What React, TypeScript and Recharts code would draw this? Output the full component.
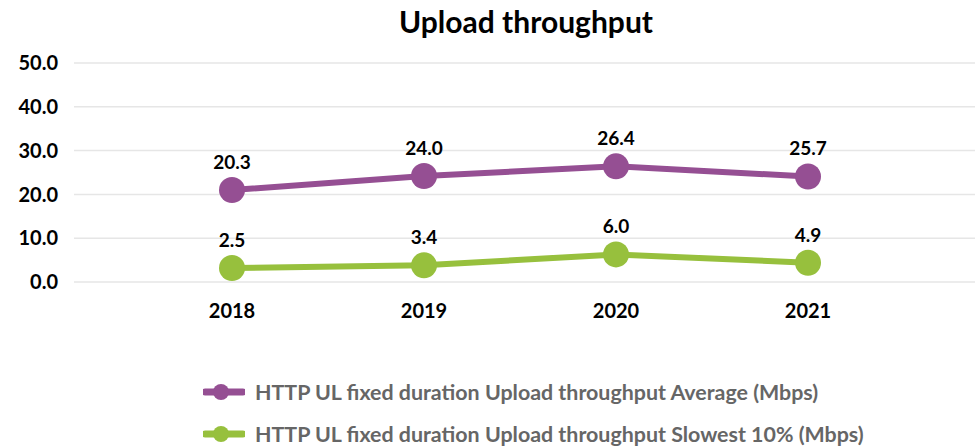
import React from "react";
import { LineChart, Line, XAxis, YAxis, CartesianGrid, LabelList } from "recharts";

const years = ["2018", "2019", "2020", "2021"];
const avgPlotted = [21.0, 24.2, 26.4, 24.1];
const avgLabels = ["20.3", "24.0", "26.4", "25.7"];
const slowPlotted = [3.2, 3.8, 6.3, 4.4];
const slowLabels = ["2.5", "3.4", "6.0", "4.9"];
const yTicks = [0, 10, 20, 30, 40, 50];
const avgName = "HTTP UL fixed duration Upload throughput Average (Mbps)";
const slowName = "HTTP UL fixed duration Upload throughput Slowest 10% (Mbps)";
const title = "Upload throughput";

const PURPLE = "#954F93";
const GREEN = "#97C03D";
const FONT = "Lato, 'Open Sans', sans-serif";

const data = years.map((y, i) => ({
  year: y,
  avg: avgPlotted[i],
  slow: slowPlotted[i],
  avgLabel: avgLabels[i],
  slowLabel: slowLabels[i],
}));

const LegendIcon = ({ color }: { color: string }) => (
  <svg width={42} height={20} style={{ display: "block" }}>
    <line x1={2} y1={10} x2={40} y2={10} stroke={color} strokeWidth={7} strokeLinecap="round" />
    <circle cx={18} cy={10} r={8} fill={color} />
  </svg>
);

export default function App() {
  return (
    <div style={{ position: "absolute", left: 0, top: 0, width: 975, height: 448, background: "#fff", fontFamily: FONT }}>
      <div
        style={{
          position: "absolute",
          left: 526,
          top: 2,
          transform: "translateX(-50%)",
          fontSize: 30,
          fontWeight: 700,
          color: "#000",
          whiteSpace: "nowrap",
          lineHeight: "38px",
        }}
      >
        {title}
      </div>
      <LineChart width={975} height={448} data={data} margin={{ top: 63, right: 0, bottom: 136, left: 0 }}>
        <CartesianGrid vertical={false} stroke="#E6E6E6" strokeWidth={1.5} />
        <XAxis
          dataKey="year"
          axisLine={false}
          tickLine={false}
          tickMargin={16}
          padding={{ left: 158, right: 167 }}
          tick={{ fill: "#000", fontSize: 20, fontWeight: 700, fontFamily: FONT }}
          height={30}
        />
        <YAxis
          domain={[0, 50]}
          ticks={yTicks}
          axisLine={false}
          tickLine={false}
          tickMargin={10}
          width={74}
          tickFormatter={(v: number) => v.toFixed(1)}
          tick={{ fill: "#000", fontSize: 20, fontWeight: 700, fontFamily: FONT }}
        />
        <Line
          dataKey="avg"
          stroke={PURPLE}
          strokeWidth={6}
          dot={{ r: 13, fill: PURPLE, stroke: PURPLE, strokeWidth: 0 }}
          activeDot={false}
          isAnimationActive={false}
        >
          <LabelList dataKey="avgLabel" position="top" offset={21} fill="#000" fontSize={19} fontWeight={700} fontFamily={FONT} />
        </Line>
        <Line
          dataKey="slow"
          stroke={GREEN}
          strokeWidth={6}
          dot={{ r: 13, fill: GREEN, stroke: GREEN, strokeWidth: 0 }}
          activeDot={false}
          isAnimationActive={false}
        >
          <LabelList dataKey="slowLabel" position="top" offset={21} fill="#000" fontSize={19} fontWeight={700} fontFamily={FONT} />
        </Line>
      </LineChart>
      {[
        { name: avgName, color: PURPLE, y: 392 },
        { name: slowName, color: GREEN, y: 434 },
      ].map((it) => (
        <div
          key={it.name}
          style={{
            position: "absolute",
            left: 203,
            top: it.y - 12,
            height: 24,
            display: "flex",
            alignItems: "center",
            whiteSpace: "nowrap",
          }}
        >
          <LegendIcon color={it.color} />
          <span style={{ marginLeft: 10, fontSize: 21.4, fontWeight: 700, color: "#666666" }}>{it.name}</span>
        </div>
      ))}
    </div>
  );
}
